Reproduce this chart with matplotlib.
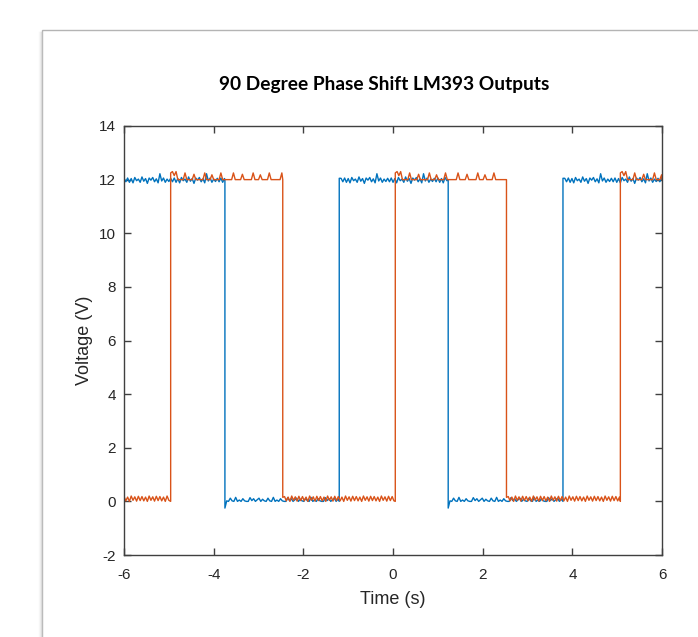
import matplotlib
matplotlib.use('Agg')
import matplotlib.pyplot as plt
from matplotlib.patches import Rectangle
from matplotlib.lines import Line2D

plt.rcParams['axes.unicode_minus'] = False

# switching times (s) and the level each trace starts at (V)
blue_edges = [-3.75, -1.2, 1.23, 3.79]
blue_start = 12.0
orange_edges = [-4.96, -2.46, 0.05, 2.53, 5.07]
orange_start = 0.0

t_min, t_max = -6.0, 6.0
high_level = 12.0
low_level = 0.0

# ripple (V offsets)
blue_hi_ripple = [0.05, -0.08, 0.06, -0.1, 0.04, -0.12, 0.08, -0.04, 0.02, -0.1, 0.1,
                  -0.06, 0.04, -0.14, 0.06, -0.02, 0.08, -0.08, 0.03, -0.12, 0.22,
                  -0.05, 0.06, -0.1, 0.02, -0.07]
blue_lo_ripple = [0.02, 0.0, 0.12, 0.02, 0.0, 0.15, 0.0, 0.05, 0.0, 0.1, 0.02,
                  0.0, 0.0, 0.14, 0.03, 0.1, 0.0, 0.06, 0.12, 0.0, 0.08]
orange_hi_ripple = [0.0, 0.0, 0.0, 0.0, 0.25, 0.0, 0.0, 0.0, 0.0, 0.2, 0.0, 0.0,
                    0.0, 0.0, 0.0, 0.25, 0.0, 0.0, 0.0, 0.18, 0.0, 0.0, 0.0, 0.0,
                    0.25, 0.0, 0.0]
orange_lo_ripple = [0.18, 0.02, 0.16, 0.0, 0.2, 0.04, 0.17, 0.01, 0.19, 0.03]

# overshoot / undershoot right after a switch
blue_fall_kick = [-0.25]
blue_rise_kick = [0.05]
orange_rise_kick = [0.25, 0.3, 0.15, 0.3]
orange_fall_kick = [0.15]

step = 0.04


def build_trace(edges, start, hi_ripple, lo_ripple, rise_kick, fall_kick):
    bounds = [t_min] + edges + [t_max]
    level = start
    T = []
    V = []
    for i in range(len(bounds) - 1):
        t0, t1 = bounds[i], bounds[i + 1]
        if level == high_level:
            kick = rise_kick if i > 0 else []
            ripple = hi_ripple
        else:
            kick = fall_kick if i > 0 else []
            ripple = lo_ripple
        k = 0
        t = t0
        while t < t1:
            T.append(t)
            if k < len(kick):
                V.append(level + kick[k])
            else:
                V.append(level + ripple[(k - len(kick)) % len(ripple)])
            k += 1
            t = t0 + k * step
        T.append(t1)
        V.append(level)
        level = low_level if level == high_level else high_level
    return T, V


tb, vb = build_trace(blue_edges, blue_start, blue_hi_ripple, blue_lo_ripple,
                     blue_rise_kick, blue_fall_kick)
to, vo = build_trace(orange_edges, orange_start, orange_hi_ripple, orange_lo_ripple,
                     orange_rise_kick, orange_fall_kick)

fig = plt.figure(figsize=(6.98, 6.37), dpi=100)

# window frame of the screenshot
fig.add_artist(Rectangle((0.0602, -0.2), 1.2, 0.2 + 0.9529, transform=fig.transFigure,
                         facecolor='white', edgecolor='#b4b4b4', linewidth=1.0, zorder=0))
for dx, c in [(-0.0015, '#d8d8d8'), (-0.003, '#ececec'), (-0.0045, '#f6f6f6')]:
    fig.add_artist(Line2D([0.0602 + dx, 0.0602 + dx], [0.0, 0.95], transform=fig.transFigure,
                          color=c, linewidth=1.0, zorder=0))

ax = fig.add_axes([0.1777, 0.1287, 0.7708, 0.6735])
ax.plot(tb, vb, color='#0072BD', linewidth=1.0)
ax.plot(to, vo, color='#D95319', linewidth=1.0)

ax.set_xlim(t_min, t_max)
ax.set_ylim(-2, 14)
ax.set_xticks([-6, -4, -2, 0, 2, 4, 6])
ax.set_yticks([-2, 0, 2, 4, 6, 8, 10, 12, 14])

for s in ax.spines.values():
    s.set_color('#404040')
    s.set_linewidth(1.0)
ax.tick_params(direction='in', top=True, right=True, length=5, width=1.0,
               color='#404040', labelcolor='#262626', labelsize=11, pad=6)
ax.tick_params(axis='x', pad=9)
for lab in ax.get_xticklabels() + ax.get_yticklabels():
    lab.set_family('Liberation Sans')

ax.set_xlabel('Time (s)', family='Liberation Sans', fontsize=13, color='#262626', labelpad=7)
ax.set_ylabel('Voltage (V)', family='Liberation Sans', fontsize=13, color='#262626', labelpad=4)

fig.text(0.550, 0.8666, '90 Degree Phase Shift LM393 Outputs', family='Lato',
         fontweight='bold', fontsize=13.8, ha='center', va='center', color='black')

fig.savefig('out.png', dpi=100)
